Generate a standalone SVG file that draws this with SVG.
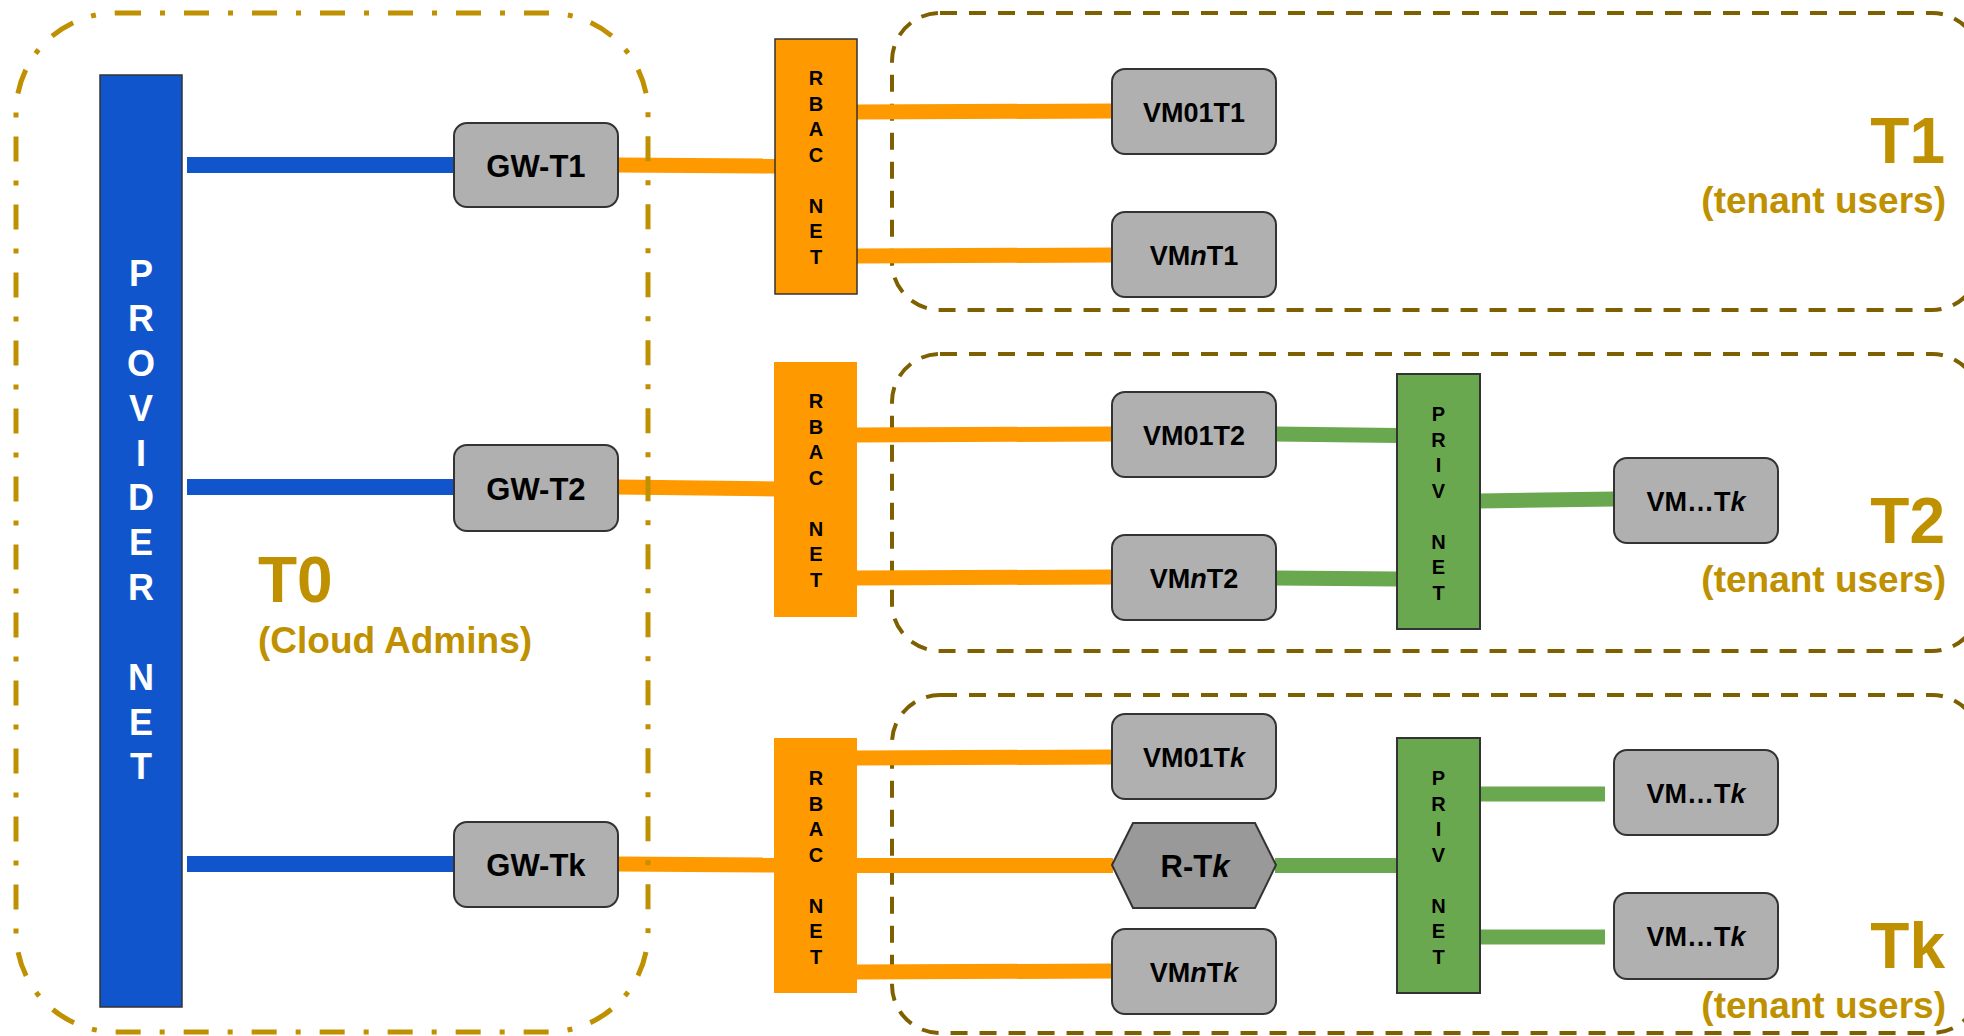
<svg xmlns="http://www.w3.org/2000/svg" width="1964" height="1036" viewBox="0 0 1964 1036">
<style>
text{font-family:"Liberation Sans",Arial,sans-serif;font-weight:bold}
.tenant{fill:none;stroke:#7f6000;stroke-width:4;stroke-dasharray:17 12}
.admin{fill:none;stroke:#bf9000;stroke-width:5;stroke-dasharray:25 19 5 19}
.node{fill:#b0b0b0;stroke:#333;stroke-width:2}
.lbl{font-size:27px;fill:#000;text-anchor:middle}
.gw{font-size:31px;fill:#000;text-anchor:middle}
.blue{stroke:#1155cc;stroke-width:16;fill:none}
.orange{stroke:#ff9900;stroke-width:15;fill:none}
.green{stroke:#6aa84f;stroke-width:15;fill:none}
.net{font-size:20px;fill:#000;text-anchor:middle}
.big{font-size:64px;fill:#bf9000}
.sub{font-size:37px;fill:#bf9000}
</style>
<rect width="1964" height="1036" fill="#fff"/>
<g id="tenant-containers">
<rect id="T1-box" class="tenant" x="892" y="13" width="1088" height="297" rx="48"/>
<rect id="T2-box" class="tenant" x="892" y="354" width="1088" height="297" rx="48"/>
<rect id="Tk-box" class="tenant" x="892" y="695" width="1088" height="338" rx="48"/>
</g>
<g id="connectors">
<line class="blue" x1="187" y1="165" x2="455" y2="165"/>
<line class="blue" x1="187" y1="487" x2="455" y2="487"/>
<line class="blue" x1="187" y1="864" x2="455" y2="864"/>
<line class="orange" x1="617" y1="165" x2="776" y2="166"/>
<line class="orange" x1="617" y1="487" x2="776" y2="489"/>
<line class="orange" x1="617" y1="864" x2="776" y2="865"/>
<line class="orange" x1="856" y1="112" x2="1113" y2="111"/>
<line class="orange" x1="856" y1="256" x2="1113" y2="255"/>
<line class="orange" x1="856" y1="435" x2="1113" y2="434"/>
<line class="orange" x1="856" y1="578" x2="1113" y2="577"/>
<line class="orange" x1="856" y1="758" x2="1113" y2="757"/>
<line class="orange" x1="856" y1="865.5" x2="1113" y2="865.5"/>
<line class="orange" x1="856" y1="972" x2="1113" y2="971"/>
<line class="green" x1="1275" y1="434" x2="1398" y2="435.5"/>
<line class="green" x1="1275" y1="578" x2="1398" y2="579"/>
<line class="green" x1="1479" y1="501" x2="1615" y2="499"/>
<line class="green" x1="1275" y1="865.5" x2="1398" y2="865.5"/>
<line class="green" x1="1479" y1="794" x2="1605" y2="794"/>
<line class="green" x1="1479" y1="937" x2="1605" y2="937"/>
</g>
<g id="T0-container">
<rect class="admin" x="16" y="13" width="632" height="1019" rx="100"/>
</g>
<g id="provider-net">
<rect x="100" y="75" width="82" height="932" fill="#1155cc" stroke="#333" stroke-width="1.5"/>
<text font-size="36" fill="#fff" text-anchor="middle"><tspan x="141" y="286">P</tspan><tspan x="141" y="331">R</tspan><tspan x="141" y="376">O</tspan><tspan x="141" y="421">V</tspan><tspan x="141" y="466">I</tspan><tspan x="141" y="510">D</tspan><tspan x="141" y="555">E</tspan><tspan x="141" y="600">R</tspan><tspan x="141" y="690">N</tspan><tspan x="141" y="735">E</tspan><tspan x="141" y="779">T</tspan></text>
</g>
<g id="GW-T1"><rect class="node" x="454" y="123" width="164" height="84" rx="13"/><text class="gw" x="536" y="176.5">GW-T1</text></g>
<g id="GW-T2"><rect class="node" x="454" y="445" width="164" height="86" rx="13"/><text class="gw" x="536" y="499.5">GW-T2</text></g>
<g id="GW-Tk"><rect class="node" x="454" y="822" width="164" height="85" rx="13"/><text class="gw" x="536" y="876">GW-Tk</text></g>
<g id="RBAC-NET-1">
<rect x="775" y="39" width="82" height="255" fill="#ff9900" stroke="#333" stroke-width="1.5"/>
<text class="net"><tspan x="816" y="85">R</tspan><tspan x="816" y="110.5">B</tspan><tspan x="816" y="136">A</tspan><tspan x="816" y="161.5">C</tspan><tspan x="816" y="212.5">N</tspan><tspan x="816" y="238">E</tspan><tspan x="816" y="263.5">T</tspan></text>
</g>
<g id="RBAC-NET-2">
<rect x="774" y="362" width="83" height="255" fill="#ff9900"/>
<text class="net"><tspan x="816" y="408">R</tspan><tspan x="816" y="433.5">B</tspan><tspan x="816" y="459">A</tspan><tspan x="816" y="484.5">C</tspan><tspan x="816" y="535.5">N</tspan><tspan x="816" y="561">E</tspan><tspan x="816" y="586.5">T</tspan></text>
</g>
<g id="RBAC-NET-k">
<rect x="774" y="738" width="83" height="255" fill="#ff9900"/>
<text class="net"><tspan x="816" y="785">R</tspan><tspan x="816" y="810.5">B</tspan><tspan x="816" y="836">A</tspan><tspan x="816" y="861.5">C</tspan><tspan x="816" y="912.5">N</tspan><tspan x="816" y="938">E</tspan><tspan x="816" y="963.5">T</tspan></text>
</g>
<g id="VM01T1"><rect class="node" x="1112" y="69" width="164" height="85" rx="13"/><text class="lbl" x="1194" y="121.5">VM01T1</text></g>
<g id="VMnT1"><rect class="node" x="1112" y="212" width="164" height="85" rx="13"/><text class="lbl" x="1194" y="264.5">VM<tspan font-style="italic">n</tspan>T1</text></g>
<g id="VM01T2"><rect class="node" x="1112" y="392" width="164" height="85" rx="13"/><text class="lbl" x="1194" y="444.5">VM01T2</text></g>
<g id="VMnT2"><rect class="node" x="1112" y="535" width="164" height="85" rx="13"/><text class="lbl" x="1194" y="587.5">VM<tspan font-style="italic">n</tspan>T2</text></g>
<g id="VM01Tk"><rect class="node" x="1112" y="714" width="164" height="85" rx="13"/><text class="lbl" x="1194" y="766.5">VM01T<tspan font-style="italic">k</tspan></text></g>
<g id="R-Tk"><polygon points="1112,865 1133,823 1255,823 1276,865 1255,908 1133,908" fill="#999999" stroke="#333" stroke-width="2"/><text x="1195" y="877" font-size="31" text-anchor="middle">R-T<tspan font-style="italic">k</tspan></text></g>
<g id="VMnTk"><rect class="node" x="1112" y="929" width="164" height="85" rx="13"/><text class="lbl" x="1194" y="981.5">VM<tspan font-style="italic">n</tspan>T<tspan font-style="italic">k</tspan></text></g>
<g id="PRIV-NET-2">
<rect x="1397" y="374" width="83" height="255" fill="#6aa84f" stroke="#333" stroke-width="2"/>
<text class="net"><tspan x="1438.5" y="421">P</tspan><tspan x="1438.5" y="446.5">R</tspan><tspan x="1438.5" y="472">I</tspan><tspan x="1438.5" y="497.5">V</tspan><tspan x="1438.5" y="548.5">N</tspan><tspan x="1438.5" y="574">E</tspan><tspan x="1438.5" y="599.5">T</tspan></text>
</g>
<g id="PRIV-NET-k">
<rect x="1397" y="738" width="83" height="255" fill="#6aa84f" stroke="#333" stroke-width="2"/>
<text class="net"><tspan x="1438.5" y="785">P</tspan><tspan x="1438.5" y="810.5">R</tspan><tspan x="1438.5" y="836">I</tspan><tspan x="1438.5" y="861.5">V</tspan><tspan x="1438.5" y="912.5">N</tspan><tspan x="1438.5" y="938">E</tspan><tspan x="1438.5" y="963.5">T</tspan></text>
</g>
<g id="VM-Tk-T2"><rect class="node" x="1614" y="458" width="164" height="85" rx="13"/><text class="lbl" x="1696" y="510.5">VM…T<tspan font-style="italic">k</tspan></text></g>
<g id="VM-Tk-1"><rect class="node" x="1614" y="750" width="164" height="85" rx="13"/><text class="lbl" x="1696" y="802.5">VM…T<tspan font-style="italic">k</tspan></text></g>
<g id="VM-Tk-2"><rect class="node" x="1614" y="893" width="164" height="86" rx="13"/><text class="lbl" x="1696" y="945.5">VM…T<tspan font-style="italic">k</tspan></text></g>
<g id="labels">
<text class="big" x="258" y="602">T0</text>
<text class="sub" x="258" y="653">(Cloud Admins)</text>
<text class="big" x="1945" y="163" text-anchor="end">T1</text>
<text class="sub" x="1946" y="213" text-anchor="end">(tenant users)</text>
<text class="big" x="1945" y="543" text-anchor="end">T2</text>
<text class="sub" x="1946" y="592" text-anchor="end">(tenant users)</text>
<text class="big" x="1945" y="968" text-anchor="end">Tk</text>
<text class="sub" x="1946" y="1018" text-anchor="end">(tenant users)</text>
</g>
</svg>
